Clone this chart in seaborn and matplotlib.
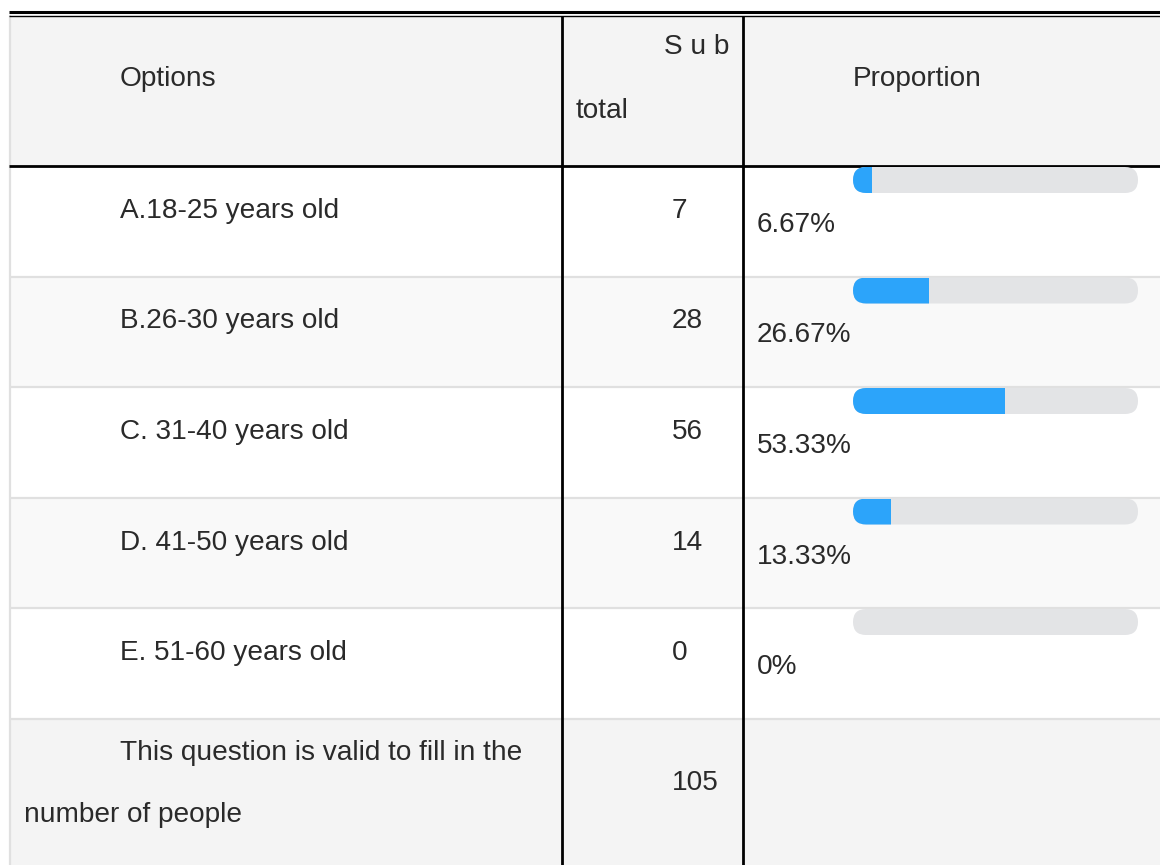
import matplotlib
matplotlib.use("Agg")
import matplotlib.pyplot as plt
from matplotlib.patches import FancyBboxPatch
import seaborn as sns
import pandas as pd

# ---- data ----
options = ["A.18-25 years old", "B.26-30 years old", "C. 31-40 years old",
           "D. 41-50 years old", "E. 51-60 years old"]
subtotals = [7, 28, 56, 14, 0]
proportions = [6.67, 26.67, 53.33, 13.33, 0.0]
prop_labels = ["6.67%", "26.67%", "53.33%", "13.33%", "0%"]
total_label_1 = "This question is valid to fill in the"
total_label_2 = "number of people"
total_value = 105
header_options = "Options"
header_sub_1 = "S u b"
header_sub_2 = "total"
header_prop = "Proportion"

sns.set_theme(style="white")
plt.rcParams["font.family"] = ["Liberation Sans", "DejaVu Sans"]

W, H, DPI = 1160, 865, 100
fig = plt.figure(figsize=(W / DPI, H / DPI), dpi=DPI)
fig.patch.set_facecolor("white")

bg = fig.add_axes([0, 0, 1, 1])
bg.set_xlim(0, W)
bg.set_ylim(H, 0)
bg.axis("off")

TXT = "#2a2a2a"
FS = 20.2
GRID = "#e0e0e0"
LEFT = 9

# header band and total band
header_top, header_bot = 16, 166
row_h = 110.5
row_tops = [header_bot + i * row_h for i in range(len(options))]
total_top = header_bot + len(options) * row_h

bg.fill_between([LEFT, W], header_top, header_bot, color="#f4f4f4", lw=0)
for i, t in enumerate(row_tops):
    col = "white" if i % 2 == 0 else "#f9f9f9"
    bg.fill_between([LEFT, W], t, t + row_h, color=col, lw=0)
bg.fill_between([LEFT, W], total_top, H, color="#f4f4f4", lw=0)

# row separators
for t in row_tops[1:] + [total_top]:
    bg.plot([LEFT, W], [t, t], color=GRID, lw=1.6, solid_capstyle="butt")
# left border
bg.plot([LEFT + 1, LEFT + 1], [header_top, H], color=GRID, lw=1.6)
# top double line
bg.plot([LEFT, W], [12, 12], color="black", lw=2.2, solid_capstyle="butt")
bg.plot([LEFT, W], [15.5, 15.5], color="black", lw=1.0, solid_capstyle="butt")
# header bottom line
bg.plot([LEFT, W], [header_bot, header_bot], color="black", lw=2.0, solid_capstyle="butt")
# column dividers
for x in (562, 743):
    bg.plot([x, x], [header_top, H], color="black", lw=2.0, solid_capstyle="butt")

# header text
bg.text(120, 79, header_options, fontsize=FS, color=TXT, va="center", ha="left")
bg.text(729, 47, header_sub_1, fontsize=FS, color=TXT, va="center", ha="right")
bg.text(576, 111, header_sub_2, fontsize=FS, color=TXT, va="center", ha="left")
bg.text(853, 79, header_prop, fontsize=FS, color=TXT, va="center", ha="left")

# rows
for i, t in enumerate(row_tops):
    bg.text(120, t + 45, options[i], fontsize=FS, color=TXT, va="center", ha="left")
    bg.text(672, t + 45, str(subtotals[i]), fontsize=FS, color=TXT, va="center", ha="left")
    bg.text(757, t + 59, prop_labels[i], fontsize=FS, color=TXT, va="center", ha="left")

# total row
bg.text(120, total_top + 34, total_label_1, fontsize=FS, color=TXT, va="center", ha="left")
bg.text(24, total_top + 97, total_label_2, fontsize=FS, color=TXT, va="center", ha="left")
bg.text(672, total_top + 65, str(total_value), fontsize=FS, color=TXT, va="center", ha="left")

# ---- progress bars ----
bar_x0, bar_x1 = 853, 1138
bar_h = 26
c0 = header_bot + 1 + bar_h / 2
ax_top = c0 - row_h / 2
ax_bot = ax_top + row_h * len(options)
bax = fig.add_axes([bar_x0 / W, 1 - ax_bot / H, (bar_x1 - bar_x0) / W, (ax_bot - ax_top) / H])
bax.patch.set_alpha(0)

df = pd.DataFrame({"option": options, "pct": proportions, "full": [100] * len(options)})
sns.barplot(data=df, x="full", y="option", orient="h", color="#e3e4e6",
            width=bar_h / row_h, ax=bax, saturation=1, linewidth=0)
sns.barplot(data=df, x="pct", y="option", orient="h", color="#2ca4fa",
            width=bar_h / row_h, ax=bax, saturation=1, linewidth=0)
bax.set_xlim(0, 100)
bax.set_ylim(len(options) - 0.5, -0.5)
bax.axis("off")

fig.canvas.draw()
n = len(options)
tracks = bax.patches[:n]
fills = bax.patches[n:2 * n]
r = bar_h / 2 / DPI
for tp, fp in zip(tracks, fills):
    bb = tp.get_window_extent()
    x0, y0, w, h = bb.x0 / DPI, bb.y0 / DPI, bb.width / DPI, bb.height / DPI
    rp = min(r, h / 2)
    rounded = FancyBboxPatch((x0 + rp, y0 + rp), w - 2 * rp, h - 2 * rp,
                             boxstyle=f"round,pad={rp}", transform=fig.dpi_scale_trans,
                             facecolor="#e3e4e6", edgecolor="none", zorder=1)
    bax.add_patch(rounded)
    tp.set_visible(False)
    fp.set_zorder(2)
    fp.set_edgecolor("none")
    fp.set_clip_path(rounded)

fig.savefig("out.png", dpi=DPI, facecolor="white")
